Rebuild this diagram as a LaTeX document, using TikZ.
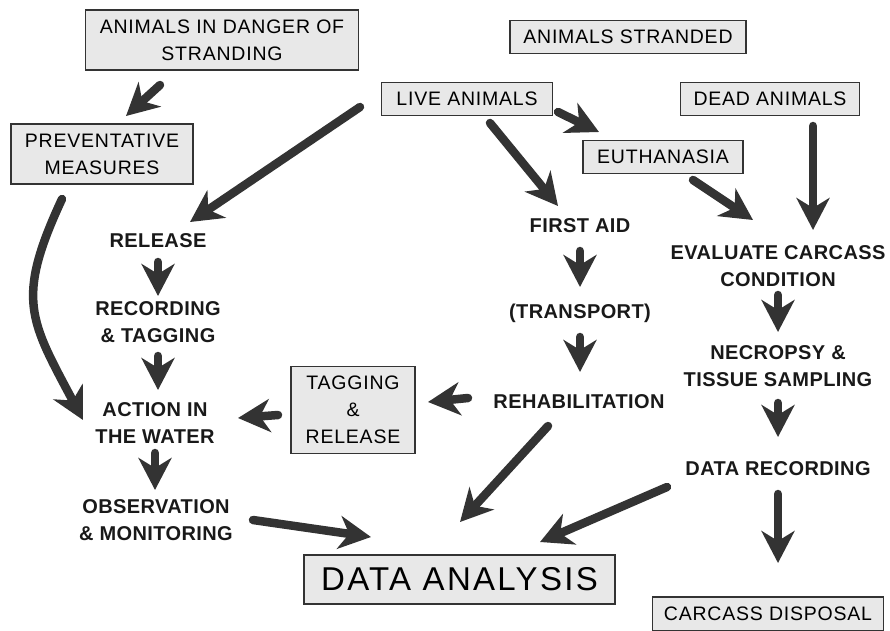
\documentclass[tikz,border=0pt]{standalone}
\usepackage{fontspec}
\setmainfont{Liberation Sans}
\newfontfamily\boxfont[LetterSpace=4]{Liberation Sans}
\newfontfamily\bigfont[LetterSpace=7]{Liberation Sans}
\newfontfamily\stagefont[LetterSpace=2]{Liberation Sans}
\usetikzlibrary{arrows.meta}

\definecolor{boxfill}{HTML}{E8E8E8}
\definecolor{inkgray}{HTML}{333333}

\tikzset{
  box/.style={draw=inkgray, fill=boxfill, line width=1.2pt, align=center, inner sep=0pt,
    font=\boxfont\fontsize{19.5}{27}\selectfont},
  stage/.style={align=center, inner sep=2pt, text=black!90,
    font=\stagefont\bfseries\fontsize{20}{27}\selectfont},
  flow/.style={draw=inkgray, line width=8.5pt, line cap=round,
    -{Stealth[length=32pt,width=33pt,inset=10pt]}},
}

\begin{document}
\begin{tikzpicture}[x=1pt, y=-1pt]
    \useasboundingbox (0,0) rectangle (890,630);

    % boxed steps
    \node[box, minimum width=273pt, minimum height=60pt] (danger)   at (222,40)  {ANIMALS IN DANGER OF\\STRANDING};
    \node[box, minimum width=182pt, minimum height=60pt] (prevent)  at (102,154) {PREVENTATIVE\\MEASURES};
    \node[box, minimum width=236pt, minimum height=33pt] (stranded) at (628,37)  {ANIMALS STRANDED};
    \node[box, minimum width=171pt, minimum height=33pt] (live)     at (467,99)  {LIVE ANIMALS};
    \node[box, minimum width=179pt, minimum height=33pt] (dead)     at (770,99)  {DEAD ANIMALS};
    \node[box, minimum width=160pt, minimum height=33pt] (euth)     at (663,157) {EUTHANASIA};
    \node[box, minimum width=124pt, minimum height=87pt] (tagrel)   at (353,410) {TAGGING\\\&\\RELEASE};
    \node[box, minimum width=311pt, minimum height=49pt,
          font=\bigfont\fontsize{33}{40}\selectfont]      (analysis) at (459.5,579.5) {DATA ANALYSIS};
    \node[box, minimum width=231pt, minimum height=34pt] (disposal) at (768,614) {CARCASS DISPOSAL};

    % plain steps
    \node[stage] (release)   at (158,241) {RELEASE};
    \node[stage] (recording) at (158,322) {RECORDING\\\& TAGGING};
    \node[stage] (action)    at (155,423) {ACTION IN\\THE WATER};
    \node[stage] (observe)   at (156,520) {OBSERVATION\\\& MONITORING};
    \node[stage] (firstaid)  at (580,226) {FIRST AID};
    \node[stage] (transport) at (580,313) {(TRANSPORT)};
    \node[stage] (rehab)     at (579,402) {REHABILITATION};
    \node[stage] (evaluate)  at (778,266) {EVALUATE CARCASS\\CONDITION};
    \node[stage] (necropsy)  at (778,366) {NECROPSY \&\\TISSUE SAMPLING};
    \node[stage] (datarec)   at (778,469) {DATA RECORDING};

    % straight down steps
    \foreach \a/\b/\s/\t/\u in {release/recording/21/-26/0, recording/action/34/-33/3,
        action/observe/30/-30/-1, firstaid/transport/25/-26/0, transport/rehab/24/-30/1,
        evaluate/necropsy/29/-34/0, necropsy/datarec/37/-32/0, datarec/disposal/25/-51/10} {
      \draw[flow] ([shift={(0,\s)}]\a.center) -- ([shift={(\u,\t)}]\b.center);
    }

    % slanted links
    \draw[flow] ([shift={(-62,45)}]danger.center) -- ([shift={(24,-38)}]prevent.center);
    \draw[flow] ([shift={(-107,8)}]live.center) -- ([shift={(32,-19)}]release.center);
    \draw[flow] ([shift={(91,13)}]live.center) -- ([shift={(-64,-25)}]euth.center);
    \draw[flow] ([shift={(23,24)}]live.center) -- ([shift={(-22,-20)}]firstaid.center);
    \draw[flow] ([shift={(43,27)}]dead.center) -- ([shift={(35,-36)}]evaluate.center);
    \draw[flow] ([shift={(30,23)}]euth.center) -- ([shift={(-25,-46)}]evaluate.center);
    \draw[flow] ([shift={(-111,-4)}]rehab.center) -- ([shift={(75,-8)}]tagrel.center);
    \draw[flow] ([shift={(-75,5)}]tagrel.center) -- ([shift={(83,-5)}]action.center);
    \draw[flow] ([shift={(97,0)}]observe.center) -- ([shift={(-88.5,-42.5)}]analysis.center);
    \draw[flow] ([shift={(-31,24)}]rehab.center) -- ([shift={(0.5,-57.5)}]analysis.center);
    \draw[flow] ([shift={(-111,18)}]datarec.center) -- ([shift={(80.5,-37.5)}]analysis.center);

    % long bend into the water
    \draw[flow] ([shift={(-40,45)}]prevent.center)
      .. controls +(-47,101) and +(-53,-100) .. ([shift={(-72,-3)}]action.center);

\end{tikzpicture}
\end{document}
